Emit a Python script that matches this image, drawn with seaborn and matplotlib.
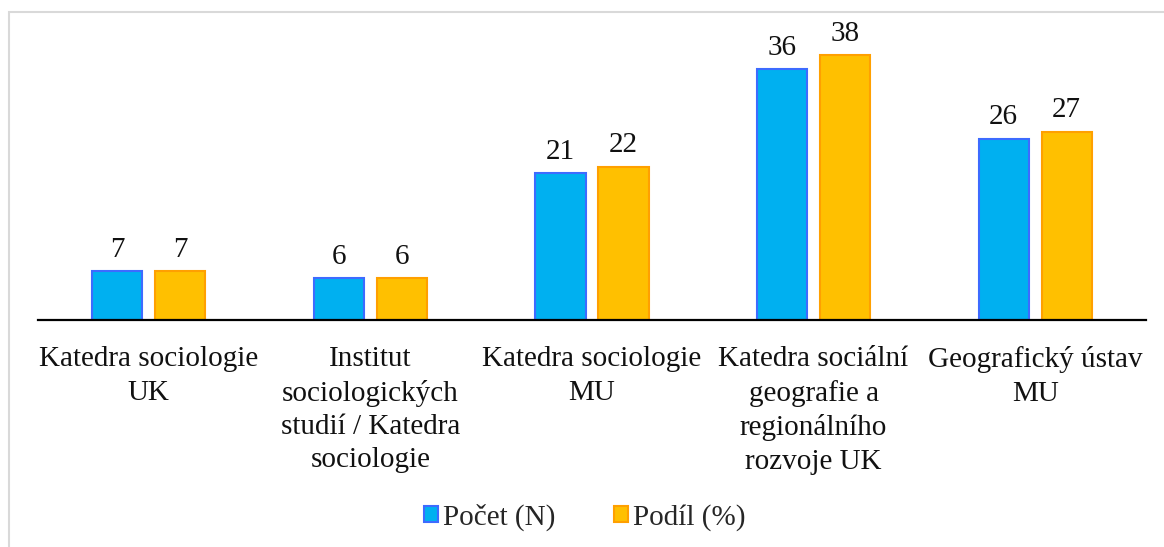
import matplotlib
matplotlib.use("Agg")
import matplotlib.pyplot as plt
import seaborn as sns
import pandas as pd
from matplotlib.patches import Rectangle, Patch

categories = [
    "Katedra sociologie\nUK",
    "Institut\nsociologických\nstudií / Katedra\nsociologie",
    "Katedra sociologie\nMU",
    "Katedra sociální\ngeografie a\nregionálního\nrozvoje UK",
    "Geografický ústav\nMU",
]
series_names = ["Počet (N)", "Podíl (%)"]
pocet = [7, 6, 21, 36, 26]
podil = [7, 6, 22, 38, 27]

fill_colors = ["#00B0F0", "#FFC000"]
edge_colors = ["#3D6BFF", "#FFA000"]

df = pd.DataFrame({
    "kat": categories * 2,
    "serie": [series_names[0]] * len(categories) + [series_names[1]] * len(categories),
    "hodnota": pocet + podil,
})

sns.set_theme(style="white")
plt.rcParams["font.family"] = ["Liberation Serif", "DejaVu Serif"]

fig = plt.figure(figsize=(11.64, 5.47), dpi=100)
ax = fig.add_axes([38 / 1164, 1 - 320 / 547, (1146 - 38) / 1164, 300 / 547])

sns.barplot(data=df, x="kat", y="hodnota", hue="serie", order=categories,
            hue_order=series_names, palette=fill_colors, width=0.569, gap=0.206,
            ax=ax, legend=False, saturation=1)

for cont, ec in zip(ax.containers, edge_colors):
    for bar in cont:
        bar.set_edgecolor(ec)
        bar.set_linewidth(1.5)
    ax.bar_label(cont, fmt="%d", padding=6, fontsize=21, color="#111111")

ax.set_ylim(0, 43)
ax.set_xlim(-0.5, len(categories) - 0.5)
ax.set_xlabel("")
ax.set_ylabel("")
ax.set_yticks([])
for s in ["top", "left", "right"]:
    ax.spines[s].set_visible(False)
ax.spines["bottom"].set_color("black")
ax.spines["bottom"].set_linewidth(1.6)
ax.tick_params(axis="x", length=0, pad=19, labelsize=21, labelcolor="#111111")
for lbl in ax.get_xticklabels():
    lbl.set_linespacing(1.36)
    lbl.set_verticalalignment("top")

handles = [Patch(facecolor=f, edgecolor=e, linewidth=1.5, label=n)
           for f, e, n in zip(fill_colors, edge_colors, series_names)]
fig.legend(handles=handles, loc="center", bbox_to_anchor=(585 / 1164, 1 - 517 / 547),
           ncol=2, frameon=False, fontsize=21, handlelength=0.48, handleheight=0.48,
           handletextpad=0.17, columnspacing=2.0)

fig.patches.append(Rectangle((9 / 1164, -0.1), 1.2, 1 - 12 / 547 + 0.1,
                             transform=fig.transFigure, fill=False,
                             edgecolor="#D9D9D9", linewidth=1.5, figure=fig))

fig.savefig("out.png", dpi=100)
